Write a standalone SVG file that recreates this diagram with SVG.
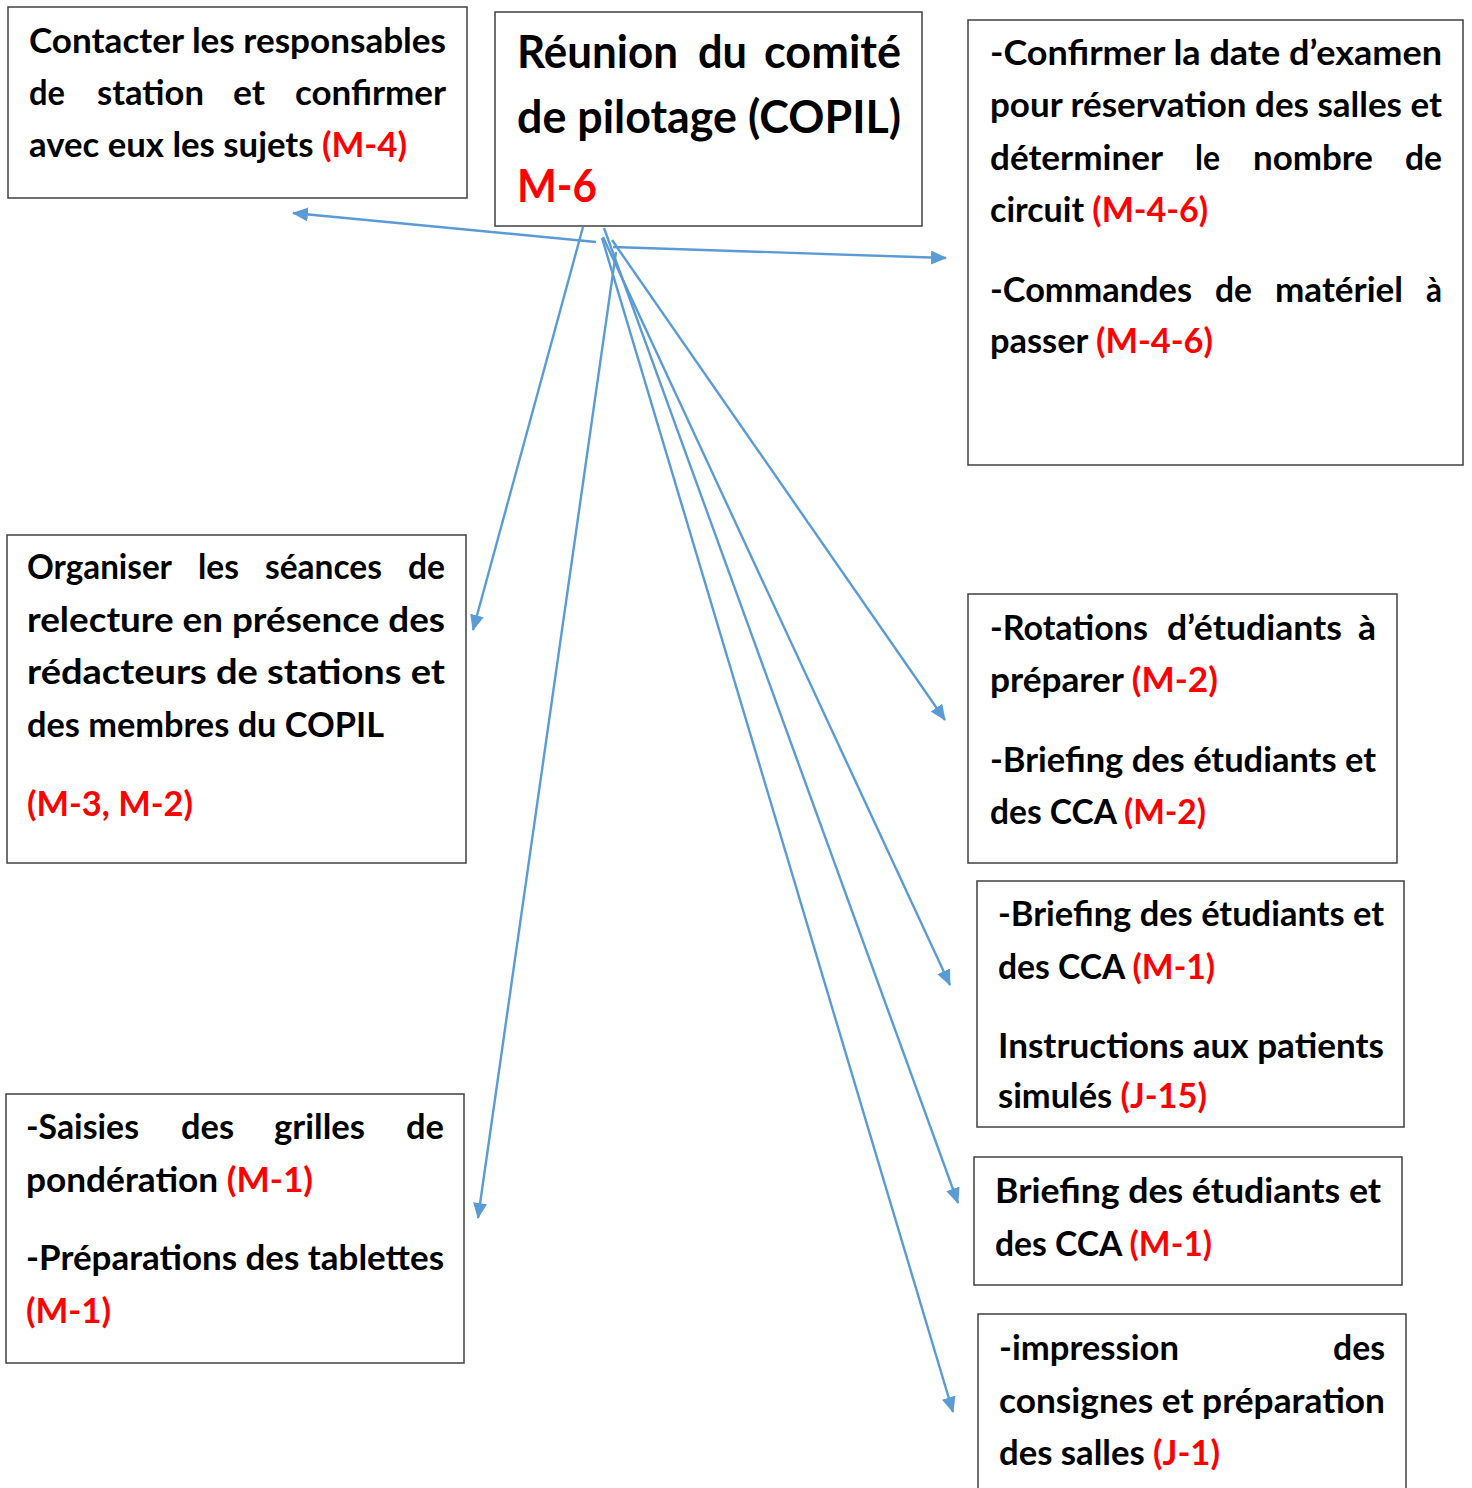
<svg xmlns="http://www.w3.org/2000/svg" width="1472" height="1488" viewBox="0 0 1472 1488">
<style>
  .box { fill: #ffffff; stroke: #404040; stroke-width: 1.5; }
  text { font-family: "Lato", "Open Sans", "Liberation Sans", sans-serif; font-weight: bold; font-size: 34px; fill: #000000; }
  .t { font-size: 45px; }
  .r { fill: #FF0000; }
  .c { fill: none; stroke: #5B9BD5; stroke-width: 2.4; marker-end: url(#ah); }
</style>
<defs>
  <marker id="ah" viewBox="0 0 16 14" refX="15" refY="7" markerWidth="16" markerHeight="14" markerUnits="userSpaceOnUse" orient="auto">
    <path d="M0,0 L16,7 L0,14 Z" fill="#5B9BD5"/>
  </marker>
</defs>
<rect width="1472" height="1488" fill="#ffffff"/>

<g id="n-contacter">
  <rect class="box" x="8" y="7" width="459" height="191"/>
  <text x="29" y="53" textLength="417" lengthAdjust="spacingAndGlyphs">Contacter les responsables</text>
  <text x="29" y="105" textLength="36" lengthAdjust="spacingAndGlyphs">de</text>
  <text x="97" y="105" textLength="107" lengthAdjust="spacingAndGlyphs">station</text>
  <text x="233" y="105" textLength="32" lengthAdjust="spacingAndGlyphs">et</text>
  <text x="295" y="105" textLength="151" lengthAdjust="spacingAndGlyphs">confirmer</text>
  <text x="29" y="157" textLength="378" lengthAdjust="spacingAndGlyphs">avec eux les sujets <tspan class="r">(M-4)</tspan></text>
</g>

<g id="n-copil">
  <rect class="box" x="495" y="12" width="427" height="214"/>
  <text class="t" x="517" y="68" textLength="161" lengthAdjust="spacingAndGlyphs">Réunion</text>
  <text class="t" x="698" y="68" textLength="49" lengthAdjust="spacingAndGlyphs">du</text>
  <text class="t" x="764" y="68" textLength="137" lengthAdjust="spacingAndGlyphs">comité</text>
  <text class="t" x="517" y="133" textLength="384" lengthAdjust="spacingAndGlyphs">de pilotage (COPIL)</text>
  <text class="t r" x="517" y="202" textLength="80" lengthAdjust="spacingAndGlyphs">M-6</text>
</g>

<g id="n-confirmer">
  <rect class="box" x="968" y="20" width="495" height="445"/>
  <text x="990" y="65" textLength="452" lengthAdjust="spacingAndGlyphs">-Confirmer la date d’examen</text>
  <text x="990" y="117" textLength="452" lengthAdjust="spacingAndGlyphs">pour réservation des salles et</text>
  <text x="990" y="170" textLength="173" lengthAdjust="spacingAndGlyphs">déterminer</text>
  <text x="1195" y="170" textLength="25" lengthAdjust="spacingAndGlyphs">le</text>
  <text x="1253" y="170" textLength="120" lengthAdjust="spacingAndGlyphs">nombre</text>
  <text x="1405" y="170" textLength="37" lengthAdjust="spacingAndGlyphs">de</text>
  <text x="990" y="222" textLength="218" lengthAdjust="spacingAndGlyphs">circuit <tspan class="r">(M-4-6)</tspan></text>
  <text x="990" y="302" textLength="202" lengthAdjust="spacingAndGlyphs">-Commandes</text>
  <text x="1215" y="302" textLength="37" lengthAdjust="spacingAndGlyphs">de</text>
  <text x="1275" y="302" textLength="128" lengthAdjust="spacingAndGlyphs">matériel</text>
  <text x="1426" y="302" textLength="16" lengthAdjust="spacingAndGlyphs">à</text>
  <text x="990" y="353" textLength="223" lengthAdjust="spacingAndGlyphs">passer <tspan class="r">(M-4-6)</tspan></text>
</g>

<g id="n-organiser">
  <rect class="box" x="7" y="535" width="459" height="328"/>
  <text x="27" y="579" textLength="145" lengthAdjust="spacingAndGlyphs">Organiser</text>
  <text x="198" y="579" textLength="41" lengthAdjust="spacingAndGlyphs">les</text>
  <text x="265" y="579" textLength="117" lengthAdjust="spacingAndGlyphs">séances</text>
  <text x="408" y="579" textLength="37" lengthAdjust="spacingAndGlyphs">de</text>
  <text x="27" y="632" textLength="418" lengthAdjust="spacingAndGlyphs">relecture en présence des</text>
  <text x="27" y="684" textLength="418" lengthAdjust="spacingAndGlyphs">rédacteurs de stations et</text>
  <text x="27" y="737" textLength="357" lengthAdjust="spacingAndGlyphs">des membres du COPIL</text>
  <text class="r" x="27" y="816" textLength="166" lengthAdjust="spacingAndGlyphs">(M-3, M-2)</text>
</g>

<g id="n-saisies">
  <rect class="box" x="6" y="1094" width="458" height="269"/>
  <text x="26" y="1139" textLength="113" lengthAdjust="spacingAndGlyphs">-Saisies</text>
  <text x="181" y="1139" textLength="53" lengthAdjust="spacingAndGlyphs">des</text>
  <text x="274" y="1139" textLength="91" lengthAdjust="spacingAndGlyphs">grilles</text>
  <text x="406" y="1139" textLength="38" lengthAdjust="spacingAndGlyphs">de</text>
  <text x="26" y="1192" textLength="287" lengthAdjust="spacingAndGlyphs">pondération <tspan class="r">(M-1)</tspan></text>
  <text x="26" y="1270" textLength="418" lengthAdjust="spacingAndGlyphs">-Préparations des tablettes</text>
  <text class="r" x="26" y="1323" textLength="85" lengthAdjust="spacingAndGlyphs">(M-1)</text>
</g>

<g id="n-rotations">
  <rect class="box" x="968" y="594" width="429" height="269"/>
  <text x="990" y="640" textLength="158" lengthAdjust="spacingAndGlyphs">-Rotations</text>
  <text x="1167" y="640" textLength="175" lengthAdjust="spacingAndGlyphs">d’étudiants</text>
  <text x="1358" y="640" textLength="18" lengthAdjust="spacingAndGlyphs">à</text>
  <text x="990" y="692" textLength="228" lengthAdjust="spacingAndGlyphs">préparer <tspan class="r">(M-2)</tspan></text>
  <text x="990" y="772" textLength="386" lengthAdjust="spacingAndGlyphs">-Briefing des étudiants et</text>
  <text x="990" y="824" textLength="216" lengthAdjust="spacingAndGlyphs">des CCA <tspan class="r">(M-2)</tspan></text>
</g>

<g id="n-briefing-m1-instructions">
  <rect class="box" x="977" y="881" width="427" height="246"/>
  <text x="998" y="926" textLength="386" lengthAdjust="spacingAndGlyphs">-Briefing des étudiants et</text>
  <text x="998" y="979" textLength="217" lengthAdjust="spacingAndGlyphs">des CCA <tspan class="r">(M-1)</tspan></text>
  <text x="998" y="1058" textLength="386" lengthAdjust="spacingAndGlyphs">Instructions aux patients</text>
  <text x="998" y="1108" textLength="209" lengthAdjust="spacingAndGlyphs">simulés <tspan class="r">(J-15)</tspan></text>
</g>

<g id="n-briefing-m1">
  <rect class="box" x="974" y="1157" width="428" height="128"/>
  <text x="995" y="1203" textLength="386" lengthAdjust="spacingAndGlyphs">Briefing des étudiants et</text>
  <text x="995" y="1256" textLength="217" lengthAdjust="spacingAndGlyphs">des CCA <tspan class="r">(M-1)</tspan></text>
</g>

<g id="n-impression">
  <rect class="box" x="978" y="1314" width="428" height="190"/>
  <text x="999" y="1360" textLength="180" lengthAdjust="spacingAndGlyphs">-impression</text>
  <text x="1333" y="1360" textLength="52" lengthAdjust="spacingAndGlyphs">des</text>
  <text x="999" y="1413" textLength="386" lengthAdjust="spacingAndGlyphs">consignes et préparation</text>
  <text x="999" y="1465" textLength="221" lengthAdjust="spacingAndGlyphs">des salles <tspan class="r">(J-1)</tspan></text>
</g>

<g id="connectors">
  <line class="c" x1="596" y1="242" x2="293" y2="213"/>
  <line class="c" x1="583" y1="227" x2="473" y2="630"/>
  <line class="c" x1="613" y1="247" x2="946" y2="258"/>
  <line class="c" x1="612" y1="240" x2="945" y2="720"/>
  <line class="c" x1="603" y1="237" x2="950" y2="985"/>
  <line class="c" x1="604" y1="228" x2="958" y2="1203"/>
  <line class="c" x1="602" y1="238" x2="953" y2="1412"/>
  <line class="c" x1="616" y1="252" x2="478" y2="1218"/>
</g>
</svg>
